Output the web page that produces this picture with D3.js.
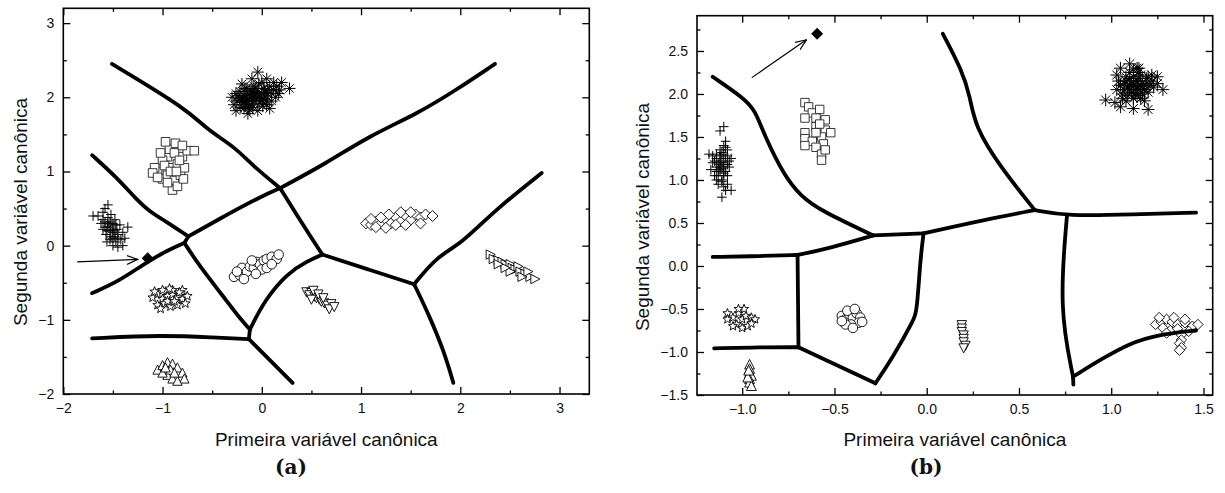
<!DOCTYPE html>
<html>
<head>
<meta charset="utf-8">
<script src="https://cdn.jsdelivr.net/npm/d3@7"></script>
<style>
  body { margin: 0; background: #fff; }
  svg text { font-family: "Liberation Sans", Arial, sans-serif; fill: #111; }
</style>
</head>
<body>
<div id="chart"></div>
<script>
// ---------- panel (a) data ----------
const aTicksX = [-2, -1, 0, 1, 2, 3]
const aTicksY = [-2, -1, 0, 1, 2, 3]

const aAsterisk = [[-0.25,1.95],[-0.2,2.0],[-0.15,2.05],[-0.1,1.9],[-0.05,2.0],[0,2.05],[0.05,1.95],[-0.12,2.1],[-0.08,2.15],[0.02,2.12],[0.1,2.05],[0.12,2.2],[-0.18,1.85],[-0.22,2.08],[-0.28,1.9],[-0.3,2.0],[-0.26,1.82],[-0.14,1.78],[-0.04,1.82],[0.08,1.85],[0.15,2.15],[0.2,2.2],[0.28,2.12],[-0.04,2.34],[-0.1,2.25],[0.05,2.25],[-0.2,2.18],[-0.06,1.98],[-0.16,1.96],[-0.02,1.92],[0.04,2.02],[-0.11,2.02],[-0.19,1.93],[-0.09,1.86],[0.0,2.2],[0.1,1.95],[-0.24,2.02],[-0.13,1.88],[0.06,2.1],[-0.07,2.07],[0.14,2.0],[-0.17,2.12],[0.01,1.88],[-0.21,1.86],[0.18,2.1],
  [-0.18,2.02],[-0.14,1.98],[-0.1,2.08],[-0.06,2.12],[-0.02,2.0],[0.02,1.98],[0.06,2.05],[-0.16,1.9],[-0.08,1.95],[-0.12,1.95],[-0.04,2.07],[0.0,1.96],[-0.2,1.95],[-0.1,2.0],[-0.15,2.12],[-0.03,2.18],[0.08,2.15],[0.12,2.1],[-0.22,1.98],[-0.08,2.04],[0.03,2.07],[-0.12,1.83],[0.05,1.9],[-0.26,2.05],[0.17,2.05]]
const aSquares = [[-1.05,1.0],[-1.0,0.9],[-0.95,0.95],[-0.9,1.05],[-0.85,1.1],[-0.8,1.2],[-0.95,1.2],[-1.0,1.15],[-1.08,1.05],[-0.88,0.88],[-0.82,0.95],[-0.9,0.75],[-0.85,0.8],[-0.93,1.3],[-0.87,1.38],[-0.97,1.4],[-0.88,1.25],[-0.78,1.05],[-0.75,1.28],[-0.68,1.28],[-0.8,1.35],[-1.02,1.25],[-1.1,0.98],[-0.98,1.08],[-0.92,1.0],[-0.83,1.15],[-0.95,0.85],[-1.05,0.92],[-0.79,0.9],[-0.86,1.0]]
const aPlus = [[-1.7,0.4],[-1.65,0.4],[-1.6,0.45],[-1.58,0.5],[-1.55,0.55],[-1.6,0.35],[-1.55,0.3],[-1.5,0.3],[-1.58,0.25],[-1.53,0.2],[-1.48,0.2],[-1.45,0.15],[-1.5,0.1],[-1.42,0.08],[-1.47,0.05],[-1.4,0.0],[-1.5,0.0],[-1.45,-0.02],[-1.35,0.25],[-1.38,0.1],[-1.55,0.38],[-1.62,0.3],[-1.52,0.42],[-1.57,0.15],[-1.43,0.28],[-1.6,0.22],[-1.48,0.35],[-1.52,0.12],[-1.4,0.18],[-1.56,0.05],
  [-1.55,0.25],[-1.52,0.28],[-1.5,0.22],[-1.48,0.12],[-1.53,0.32],[-1.56,0.2],[-1.45,0.1],[-1.5,0.18],[-1.58,0.32],[-1.46,0.22],[-1.53,0.08],[-1.47,0.28]]
const aCircles = [[-0.28,-0.42],[-0.22,-0.4],[-0.2,-0.3],[-0.15,-0.35],[-0.12,-0.28],[-0.08,-0.3],[-0.05,-0.22],[-0.02,-0.25],[0.02,-0.2],[0.05,-0.18],[0.1,-0.15],[0.15,-0.18],[0.0,-0.32],[-0.1,-0.2],[0.05,-0.3],[-0.18,-0.45],[0.1,-0.25],[-0.25,-0.35],[0.17,-0.12],[-0.06,-0.38]]
const aStars = [[-1.1,-0.7],[-1.05,-0.65],[-1.0,-0.72],[-0.95,-0.68],[-0.9,-0.66],[-0.85,-0.7],[-0.8,-0.72],[-0.75,-0.68],[-1.05,-0.8],[-0.98,-0.78],[-0.92,-0.82],[-0.85,-0.8],[-0.8,-0.6],[-0.9,-0.6],[-1.0,-0.6],[-0.95,-0.75],[-1.08,-0.62],[-0.88,-0.75],[-0.77,-0.78],[-1.02,-0.85],[-0.93,-0.58],[-0.83,-0.63]]
const aTriUp = [[-1.05,-1.68],[-1.0,-1.62],[-0.95,-1.58],[-0.9,-1.6],[-0.85,-1.65],[-0.8,-1.72],[-0.78,-1.8],[-0.95,-1.75],[-0.9,-1.8],[-0.85,-1.83],[-1.0,-1.72],[-0.92,-1.68],[-0.88,-1.72],[-0.97,-1.65]]
const aDiamonds = [[1.05,0.3],[1.1,0.28],[1.15,0.32],[1.2,0.3],[1.25,0.35],[1.3,0.3],[1.35,0.38],[1.4,0.33],[1.45,0.4],[1.5,0.35],[1.55,0.42],[1.6,0.38],[1.65,0.42],[1.72,0.4],[1.15,0.25],[1.25,0.24],[1.35,0.28],[1.45,0.28],[1.28,0.42],[1.4,0.45],[1.5,0.45],[1.2,0.38],[1.6,0.3],[1.1,0.36]]
const aTriDown = [[0.45,-0.62],[0.5,-0.63],[0.48,-0.66],[0.53,-0.68],[0.55,-0.7],[0.58,-0.72],[0.6,-0.75],[0.63,-0.77],[0.66,-0.8],[0.7,-0.78],[0.68,-0.85],[0.52,-0.6],[0.57,-0.65],[0.62,-0.7],[0.5,-0.72],[0.73,-0.82]]
const aTriRight = [[2.3,-0.12],[2.33,-0.18],[2.38,-0.2],[2.42,-0.22],[2.45,-0.25],[2.5,-0.25],[2.52,-0.3],[2.55,-0.32],[2.58,-0.28],[2.6,-0.35],[2.65,-0.38],[2.7,-0.42],[2.75,-0.45],[2.5,-0.35],[2.62,-0.42],[2.45,-0.3],[2.38,-0.25],[2.68,-0.35]]
const aUnknown = [[-1.15,-0.17]]
const aArrow = [[-1.86,-0.22],[-1.25,-0.185]]

const aBoundaries = [
  [[-1.51,2.45],[-0.74,1.83],[-0.55,1.56],[-0.28,1.34],[-0.085,1.07],[0.185,0.775]],
  [[0.185,0.775],[0.34,0.44],[0.49,0.125],[0.61,-0.12]],
  [[0.185,0.775],[0.65,1.11],[1.07,1.47],[1.57,1.78],[1.96,2.10],[2.35,2.45]],
  [[0.185,0.775],[-0.01,0.66],[-0.32,0.44],[-0.74,0.125]],
  [[-1.71,1.22],[-1.47,0.93],[-1.26,0.62],[-1.13,0.46],[-0.97,0.33],[-0.74,0.125]],
  [[-0.74,0.125],[-0.78,0.036]],
  [[-1.71,-0.64],[-1.44,-0.48],[-1.17,-0.23],[-0.93,-0.05],[-0.78,0.036]],
  [[-0.78,0.036],[-0.625,-0.28],[-0.39,-0.68],[-0.24,-0.95],[-0.12,-1.13]],
  [[-0.12,-1.13],[-0.13,-1.26]],
  [[-0.12,-1.13],[0.03,-0.73],[0.26,-0.37],[0.455,-0.21],[0.61,-0.12]],
  [[-1.71,-1.25],[-1.01,-1.205],[-0.47,-1.24],[-0.13,-1.26]],
  [[-0.13,-1.26],[0.31,-1.85]],
  [[0.61,-0.12],[1.07,-0.32],[1.535,-0.52]],
  [[1.535,-0.52],[1.77,-0.14],[2.0,0.013],[2.35,0.48],[2.82,0.98]],
  [[1.535,-0.52],[1.69,-0.95],[1.84,-1.44],[1.93,-1.85]]
]

// ---------- panel (b) data ----------
const bTicksX = [-1.0, -0.5, 0.0, 0.5, 1.0, 1.5]
const bTicksY = [-1.5, -1.0, -0.5, 0.0, 0.5, 1.0, 1.5, 2.0, 2.5]

const bPlus = [[-1.16,1.2],[-1.14,1.15],[-1.12,1.1],[-1.1,1.2],[-1.12,1.25],[-1.1,1.3],[-1.14,1.3],[-1.08,1.35],[-1.13,1.05],[-1.11,1.0],[-1.15,1.05],[-1.09,1.1],[-1.07,1.15],[-1.06,1.25],[-1.17,1.12],[-1.18,1.3],[-1.1,1.4],[-1.09,1.45],[-1.13,0.95],[-1.1,0.92],[-1.09,0.88],[-1.06,0.88],[-1.11,0.8],[-1.12,1.57],[-1.1,1.62],[-1.15,1.22],[-1.08,1.18],[-1.12,1.18],[-1.14,1.0],[-1.11,1.13],
  [-1.13,1.2],[-1.11,1.22],[-1.09,1.25],[-1.12,1.15],[-1.1,1.08],[-1.13,1.12],[-1.08,1.28],[-1.11,1.32],[-1.1,1.16],[-1.14,1.25],[-1.12,1.35],[-1.1,1.05],[-1.08,1.05],[-1.16,1.28],[-1.07,1.22],[-1.12,1.28],[-1.14,1.1],[-1.11,0.98],[-1.09,1.38],[-1.08,0.95]]
const bSquares = [[-0.66,1.9],[-0.64,1.85],[-0.62,1.78],[-0.58,1.82],[-0.6,1.72],[-0.66,1.72],[-0.55,1.7],[-0.6,1.62],[-0.55,1.58],[-0.52,1.55],[-0.66,1.55],[-0.66,1.48],[-0.62,1.45],[-0.57,1.5],[-0.56,1.42],[-0.6,1.38],[-0.66,1.4],[-0.57,1.3],[-0.55,1.35],[-0.57,1.23],[-0.6,1.55],[-0.58,1.65]]
const bAsterisk = [[1.05,2.1],[1.08,2.15],[1.1,2.05],[1.12,2.1],[1.14,2.15],[1.16,2.1],[1.18,2.05],[1.2,2.2],[1.15,2.25],[1.1,2.25],[1.06,2.0],[1.09,1.98],[1.13,2.0],[1.17,2.0],[1.22,2.15],[1.25,2.2],[1.28,2.05],[1.03,2.22],[1.05,2.3],[1.1,2.35],[1.14,2.3],[0.97,1.93],[1.02,1.9],[1.05,1.85],[1.12,1.83],[1.2,1.82],[1.07,2.05],[1.11,2.12],[1.15,2.18],[1.13,2.05],[1.19,2.12],[1.08,2.2],[1.23,2.08],[1.16,1.95],[1.03,2.05],
  [1.09,2.08],[1.11,2.02],[1.13,2.15],[1.15,2.05],[1.17,2.12],[1.19,2.18],[1.1,2.18],[1.07,2.12],[1.12,1.95],[1.14,1.98],[1.16,2.22],[1.21,2.1],[1.06,1.95],[1.18,1.92],[1.12,2.2],[1.08,1.92],[1.14,2.08],[1.1,2.1],[1.17,2.06],[1.2,2.02],[1.22,2.22],[1.04,2.15],[1.15,2.3],[1.25,2.12],[1.12,2.28]]
const bStars = [[-1.08,-0.55],[-1.05,-0.6],[-1.02,-0.55],[-1.0,-0.62],[-0.98,-0.58],[-0.95,-0.6],[-0.93,-0.62],[-1.03,-0.68],[-1.0,-0.72],[-0.97,-0.7],[-1.08,-0.62],[-0.99,-0.5],[-1.02,-0.5],[-0.95,-0.67],[-1.05,-0.7]]
const bCircles = [[-0.46,-0.58],[-0.44,-0.62],[-0.42,-0.56],[-0.4,-0.6],[-0.38,-0.55],[-0.36,-0.6],[-0.37,-0.66],[-0.41,-0.68],[-0.44,-0.68],[-0.4,-0.72],[-0.43,-0.52],[-0.39,-0.5],[-0.35,-0.65],[-0.46,-0.64]]
const bTriUp = [[-0.96,-1.15],[-0.96,-1.2],[-0.96,-1.25],[-0.95,-1.28],[-0.96,-1.32],[-0.96,-1.36],[-0.95,-1.4],[-0.97,-1.3],[-0.965,-1.22]]
const bTriDown = [[0.19,-0.68],[0.19,-0.72],[0.19,-0.76],[0.2,-0.8],[0.2,-0.84],[0.2,-0.88],[0.21,-0.92],[0.2,-0.95]]
const bDiamonds = [[1.24,-0.68],[1.27,-0.65],[1.3,-0.62],[1.33,-0.65],[1.36,-0.68],[1.4,-0.66],[1.44,-0.7],[1.47,-0.68],[1.28,-0.72],[1.32,-0.75],[1.36,-0.73],[1.42,-0.76],[1.26,-0.6],[1.3,-0.78],[1.38,-0.8],[1.38,-0.86],[1.37,-0.9],[1.38,-0.95],[1.37,-0.98],[1.34,-0.6],[1.4,-0.62]]
const bUnknown = [[-0.594,2.70]]
const bArrow = [[-0.948,2.19],[-0.652,2.63]]

const bBoundaries = [
  [[-1.16,2.2],[-0.99,1.95],[-0.93,1.81],[-0.88,1.52],[-0.77,1.04],[-0.68,0.81],[-0.58,0.65],[-0.29,0.355]],
  [[-1.16,0.105],[-0.9,0.115],[-0.70,0.128]],
  [[-0.70,0.128],[-0.53,0.205],[-0.29,0.355]],
  [[-0.29,0.355],[-0.017,0.38]],
  [[-0.017,0.38],[0.307,0.535],[0.586,0.65]],
  [[0.586,0.65],[0.397,1.155],[0.262,1.62],[0.235,1.97],[0.19,2.28],[0.0875,2.70]],
  [[0.586,0.65],[0.76,0.58],[1.118,0.60],[1.46,0.62]],
  [[0.76,0.58],[0.718,-0.49],[0.793,-1.287]],
  [[0.793,-1.287],[0.795,-1.38]],
  [[0.793,-1.287],[0.956,-1.07],[1.10,-0.90],[1.244,-0.80],[1.46,-0.75]],
  [[-0.017,0.38],[-0.035,0.07],[-0.053,-0.53],[-0.071,-0.628],[-0.18,-1.05],[-0.278,-1.364]],
  [[-0.278,-1.364],[-0.695,-0.945]],
  [[-0.70,0.128],[-0.695,-0.945]],
  [[-0.695,-0.945],[-0.9,-0.945],[-1.152,-0.957]]
]

// ---------- drawing ----------
const svg = d3.select('#chart').append('svg')
    .attr('width', 1225)
    .attr('height', 493)

svg.append('defs').append('marker')
    .attr('id', 'arrowhead')
    .attr('viewBox', '0 0 12 10')
    .attr('refX', 11).attr('refY', 5)
    .attr('markerWidth', 12).attr('markerHeight', 10)
    .attr('markerUnits', 'userSpaceOnUse')
    .attr('orient', 'auto')
    .append('path')
    .attr('d', 'M0,0.5 L11,5 L0,9.5')
    .attr('fill', 'none').attr('stroke', '#000').attr('stroke-width', 1.2)

function markerPath(type, r) {
    switch (type) {
        case 'square': return `M${-r},${-r}h${2*r}v${2*r}h${-2*r}Z`
        case 'circle': return `M${r},0A${r},${r} 0 1,1 ${-r},0A${r},${r} 0 1,1 ${r},0Z`
        case 'diamond': return `M0,${-r}L${r},0L0,${r}L${-r},0Z`
        case 'triUp': return `M0,${-r}L${r*0.9},${r*0.75}L${-r*0.9},${r*0.75}Z`
        case 'triDown': return `M0,${r}L${r*0.9},${-r*0.75}L${-r*0.9},${-r*0.75}Z`
        case 'triRight': return `M${-r*0.75},${-r*0.9}L${r},0L${-r*0.75},${r*0.9}Z`
        case 'plus': return `M${-r},0H${r}M0,${-r}V${r}`
        case 'asterisk': {
            let d = ''
            for (let i = 0; i < 4; i++) {
                const a = i * Math.PI / 4
                d += `M${-r*Math.cos(a)},${-r*Math.sin(a)}L${r*Math.cos(a)},${r*Math.sin(a)}`
            }
            return d
        }
        case 'star': {
            const pts = []
            for (let i = 0; i < 10; i++) {
                const a = -Math.PI / 2 + i * Math.PI / 5
                const rr = i % 2 === 0 ? r : r * 0.42
                pts.push([rr * Math.cos(a), rr * Math.sin(a)])
            }
            return 'M' + pts.map(p => p.join(',')).join('L') + 'Z'
        }
    }
}

function drawPanel(p) {
    const x = d3.scaleLinear().domain(p.xDomain).range([p.left, p.right])
    const y = d3.scaleLinear().domain(p.yDomain).range([p.bottom, p.top])
    const g = svg.append('g')

    // scatter groups
    p.series.forEach(s => {
        const open = !(s.type === 'plus' || s.type === 'asterisk')
        g.append('g').selectAll('path')
            .data(s.data)
            .enter().append('path')
            .attr('transform', d => `translate(${x(d[0])},${y(d[1])})`)
            .attr('d', markerPath(s.type, s.r))
            .attr('fill', s.fill || (open ? '#fff' : 'none'))
            .attr('stroke', s.stroke || '#000')
            .attr('stroke-width', s.sw || 0.9)
    })

    // decision boundaries
    const line = d3.line()
        .x(d => x(d[0])).y(d => y(d[1]))
        .curve(d3.curveBasis)
    g.append('g').selectAll('path')
        .data(p.boundaries)
        .enter().append('path')
        .attr('d', line)
        .attr('fill', 'none')
        .attr('stroke', '#000')
        .attr('stroke-width', 3.8)
        .attr('stroke-linejoin', 'round')
        .attr('stroke-linecap', 'round')

    // unknown sample + arrow
    g.append('line')
        .attr('x1', x(p.arrow[0][0])).attr('y1', y(p.arrow[0][1]))
        .attr('x2', x(p.arrow[1][0])).attr('y2', y(p.arrow[1][1]))
        .attr('stroke', '#000').attr('stroke-width', 1.2)
        .attr('marker-end', 'url(#arrowhead)')
    g.selectAll('.unk')
        .data(p.unknown)
        .enter().append('path')
        .attr('transform', d => `translate(${x(d[0])},${y(d[1])})`)
        .attr('d', markerPath('diamond', 6))
        .attr('fill', '#000')

    // axes with inward ticks on all four sides
    const minorX = d3.range(p.xMinor[0], p.xDomain[1] + 1e-9, p.xMinor[1]).filter(v => v >= p.xDomain[0])
    const minorY = d3.range(p.yMinor[0], p.yDomain[1] + 1e-9, p.yMinor[1]).filter(v => v >= p.yDomain[0])
    const addAxis = (gen, tr, vals, size, labels) => {
        const a = g.append('g').attr('transform', tr)
            .call(gen.tickValues(vals).tickSize(-size).tickPadding(p.pad)
                .tickFormat(labels ? p.fmt : ''))
        a.select('.domain').remove()
        a.selectAll('line').attr('stroke', '#000').attr('stroke-width', 1.3)
        a.selectAll('text').style('font-size', '14px').attr('fill', '#111')
            .style('font-family', '"Liberation Sans", Arial, sans-serif')
        return a
    }
    addAxis(d3.axisBottom(x), `translate(0,${p.bottom})`, minorX, 3.5, false)
    addAxis(d3.axisBottom(x), `translate(0,${p.bottom})`, p.ticksX, 7, true)
    addAxis(d3.axisTop(x), `translate(0,${p.top})`, minorX, 3.5, false)
    addAxis(d3.axisTop(x), `translate(0,${p.top})`, p.ticksX, 7, false)
    addAxis(d3.axisLeft(y), `translate(${p.left},0)`, minorY, 3.5, false)
    addAxis(d3.axisLeft(y), `translate(${p.left},0)`, p.ticksY, 7, true)
    addAxis(d3.axisRight(y), `translate(${p.right},0)`, minorY, 3.5, false)
    addAxis(d3.axisRight(y), `translate(${p.right},0)`, p.ticksY, 7, false)

    g.append('rect')
        .attr('x', p.left).attr('y', p.top)
        .attr('width', p.right - p.left).attr('height', p.bottom - p.top)
        .attr('fill', 'none').attr('stroke', '#000').attr('stroke-width', 1.6)

    // titles
    const cx = (p.left + p.right) / 2
    g.append('text')
        .attr('x', cx).attr('y', 446)
        .attr('text-anchor', 'middle')
        .style('font-size', '19px')
        .text('Primeira variável canônica')
    g.append('text')
        .attr('transform', `translate(${p.yTitleX},${p.yTitleY}) rotate(-90)`)
        .attr('text-anchor', 'middle')
        .style('font-size', '19px')
        .text('Segunda variável canônica')
    g.append('text')
        .attr('x', p.capX).attr('y', 474)
        .attr('text-anchor', 'middle')
        .style('font-family', '"DejaVu Serif", "Liberation Serif", serif')
        .style('font-weight', 'bold')
        .style('font-size', '20px')
        .text(p.caption)
}

drawPanel({
    left: 63.3, right: 589.3, top: 8.3, bottom: 394,
    xDomain: [-2, 3.3], yDomain: [-2, 3.2],
    ticksX: aTicksX, ticksY: aTicksY,
    xMinor: [-1.5, 1], yMinor: [-1.5, 1],
    fmt: d3.format('d'), pad: 9,
    yTitleX: 27, yTitleY: 212, capX: 291, caption: '(a)',
    boundaries: aBoundaries, unknown: aUnknown, arrow: aArrow,
    series: [
        { data: aAsterisk, type: 'asterisk', r: 6, sw: 1 },
        { data: aSquares, type: 'square', r: 4.3, stroke: '#222' },
        { data: aPlus, type: 'plus', r: 4.8, sw: 1 },
        { data: aCircles, type: 'circle', r: 4.8 },
        { data: aStars, type: 'star', r: 5 },
        { data: aTriUp, type: 'triUp', r: 5.2 },
        { data: aDiamonds, type: 'diamond', r: 5.5 },
        { data: aTriDown, type: 'triDown', r: 5.2 },
        { data: aTriRight, type: 'triRight', r: 5.2 }
    ]
})

drawPanel({
    left: 697, right: 1212.7, top: 15.7, bottom: 395,
    xDomain: [-1.245, 1.55], yDomain: [-1.5, 2.91],
    ticksX: bTicksX, ticksY: bTicksY,
    xMinor: [-0.75, 0.5], yMinor: [-1.25, 0.5],
    fmt: d3.format('.1f'), pad: 9,
    yTitleX: 649, yTitleY: 217, capX: 926, caption: '(b)',
    boundaries: bBoundaries, unknown: bUnknown, arrow: bArrow,
    series: [
        { data: bAsterisk, type: 'asterisk', r: 6.3, sw: 1 },
        { data: bSquares, type: 'square', r: 4.2, stroke: '#222' },
        { data: bPlus, type: 'plus', r: 4.8, sw: 1 },
        { data: bCircles, type: 'circle', r: 4.8 },
        { data: bStars, type: 'star', r: 4.8 },
        { data: bTriUp, type: 'triUp', r: 5.5 },
        { data: bDiamonds, type: 'diamond', r: 5.2 },
        { data: bTriDown, type: 'triDown', r: 5.2 }
    ]
})
</script>
</body>
</html>
